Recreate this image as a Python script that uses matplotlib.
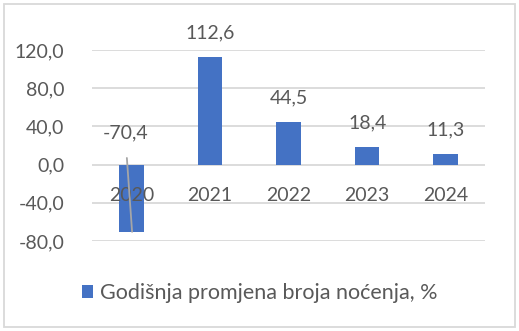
import matplotlib
matplotlib.use("Agg")
import matplotlib.pyplot as plt
from matplotlib.patches import Rectangle

categories = ["2020", "2021", "2022", "2023", "2024"]
values = [-70.4, 112.6, 44.5, 18.4, 11.3]
series_name = "Godišnja promjena broja noćenja, %"
yticks = [-80, -40, 0, 40, 80, 120]

BLUE = "#4472C4"
TXT = "#595959"
GRID = "#D9D9D9"
FS = 14

plt.rcParams['font.family'] = ['Lato', 'DejaVu Sans']

fig = plt.figure(figsize=(5.19, 3.31), dpi=100)
ax = fig.add_axes([92/519, 1-241/331, (485-92)/519, (241-50)/331])

x = list(range(len(categories)))
bars = ax.bar(x, values, width=0.314, color=BLUE, zorder=3, label=series_name)

ax.set_xlim(-0.5, len(categories)-0.5)
ax.set_ylim(-80, 120)
ax.set_yticks(yticks)
ax.set_yticklabels([f"{v:.1f}".replace(".", ",") for v in yticks], color=TXT, fontsize=FS)
ax.yaxis.grid(True, color=GRID, linewidth=1.3)
ax.tick_params(axis='y', length=0, pad=20)
ax.yaxis.set_zorder(0.5)

ax.spines['bottom'].set_position(('data', 0))
for s in ['top', 'right', 'left', 'bottom']:
    ax.spines[s].set_visible(False)
ax.set_xticks(x)
ax.set_xticklabels(categories, color=TXT, fontsize=FS)
ax.tick_params(axis='x', length=0, pad=16)
ax.xaxis.set_zorder(5)

# data labels
for i, v in enumerate(values):
    lab = f"{v:.1f}".replace(".", ",")
    if v >= 0:
        ax.annotate(lab, (i, v), xytext=(0, 24), textcoords='offset pixels',
                    ha='center', va='center', color=TXT, fontsize=FS, zorder=6)
    else:
        ax.annotate(lab, (i + 0.01, v), xytext=(-7, 99), textcoords='offset pixels',
                    ha='center', va='center', color=TXT, fontsize=FS, zorder=6,
                    arrowprops=dict(arrowstyle='-', color='#A6A6A6', lw=1.3,
                                    shrinkA=10, shrinkB=0))

# legend
leg = fig.legend(handles=[bars], labels=[series_name], loc='center',
                 bbox_to_anchor=(0.5, 1-293/331), frameon=False, fontsize=15.5,
                 handlelength=0.55, handleheight=0.55, handletextpad=0.3)
for t in leg.get_texts():
    t.set_color(TXT)

# outer border
fig.patches.append(Rectangle((4/519, 4/331), 1-8/519, 1-8/331, transform=fig.transFigure,
                             fill=False, edgecolor=GRID, linewidth=1.3))

fig.savefig("out.png", dpi=100)
